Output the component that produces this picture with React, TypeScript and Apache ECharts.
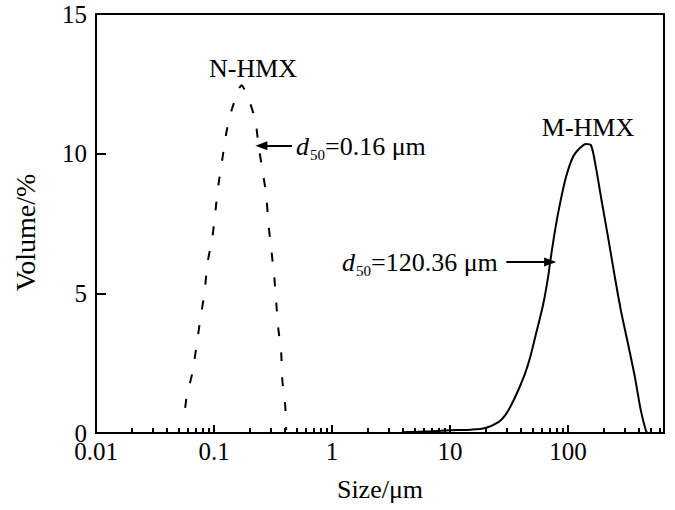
import React, { useEffect, useRef } from "react";
import * as echarts from "echarts";

const nhmxSize = [0.057, 0.0586, 0.0658, 0.0712, 0.0769, 0.0832, 0.0881, 0.097, 0.103, 0.109, 0.118, 0.127, 0.141, 0.164, 0.171, 0.195, 0.224, 0.238, 0.257, 0.277, 0.288, 0.306, 0.324, 0.337, 0.35, 0.371, 0.379, 0.401, 0.409];
const nhmxVolume = [0.9, 1.3, 2.18, 3.15, 4.12, 5.05, 6.09, 7.02, 7.98, 8.88, 9.85, 10.74, 11.56, 12.35, 12.45, 11.99, 11.2, 10.31, 9.42, 8.52, 7.56, 6.55, 5.59, 4.65, 3.76, 2.86, 1.9, 1.0, 0.1];

const mhmxSize = [3.9, 6, 10, 15, 19.9, 25.7, 29.4, 33.0, 37.9, 43.4, 47.8, 52.7, 61.5, 67.8, 70.5, 77.7, 85.6, 96.2, 110, 126, 142, 156, 172, 190, 218, 249, 280, 321, 368, 413, 455, 470];
const mhmxVolume = [0.03, 0.05, 0.1, 0.12, 0.18, 0.39, 0.64, 1.0, 1.54, 2.15, 2.72, 3.44, 4.6, 5.59, 6.12, 7.27, 8.23, 9.17, 9.88, 10.2, 10.35, 10.31, 9.52, 8.45, 7.02, 5.59, 4.4, 3.22, 2.01, 0.82, 0.11, 0];

const xMajorTicks = [0.01, 0.1, 1, 10, 100];
const xMinorTicks = [
  0.02, 0.03, 0.04, 0.05, 0.06, 0.07, 0.08, 0.09,
  0.2, 0.3, 0.4, 0.5, 0.6, 0.7, 0.8, 0.9,
  2, 3, 4, 5, 6, 7, 8, 9,
  20, 30, 40, 50, 60, 70, 80, 90,
  200, 300, 400, 500, 600,
];
const xMin = 0.01;
const xMax = 650;
const yMin = 0;
const yMax = 15;
const yInterval = 5;

const seriesNames = ["N-HMX", "M-HMX"];
const d50Values = ["=0.16 μm", "=120.36 μm"];
// arrows: [tailSize, tailVol, tipSize, tipVol]
const nArrow = [0.459, 10.28, 0.252, 10.28];
const mArrow = [30.0, 6.12, 70.5, 6.12];

const FONT = "Liberation Serif";

function zip(a: number[], b: number[]) {
  return a.map((v, i) => [v, b[i]]);
}

function txt(text: string, x: number, y: number, size: number, italic = false, align = "left") {
  return {
    type: "text",
    x,
    y,
    silent: true,
    style: {
      text,
      fill: "#000",
      fontSize: size,
      fontFamily: FONT,
      fontStyle: italic ? "italic" : "normal",
      align,
      verticalAlign: "middle",
      textAlign: align,
      textVerticalAlign: "middle",
    },
  };
}

function arrow(a: number[]) {
  return {
    silent: true,
    symbol: ["none", "triangle"],
    symbolSize: [9, 12],
    label: { show: false },
    emphasis: { disabled: true },
    lineStyle: { color: "#000", width: 2, type: "solid" },
    itemStyle: { color: "#000" },
    data: [[{ coord: [a[0], a[1]] }, { coord: [a[2], a[3]] }]],
  };
}

export default function App() {
  const ref = useRef<HTMLDivElement>(null);
  useEffect(() => {
    if (!ref.current) return;
    const chart = echarts.init(ref.current, null, { renderer: "svg" });
    const option: any = {
      animation: false,
      backgroundColor: "#fff",
      grid: {
        left: 96,
        right: 11,
        top: 14,
        bottom: 77,
        show: true,
        borderColor: "#000",
        borderWidth: 2,
        backgroundColor: "transparent",
        outerBoundsMode: "none",
      },
      xAxis: [
        {
          type: "log",
          logBase: 10,
          min: xMin,
          max: xMax,
          position: "bottom",
          name: "Size/μm",
          nameLocation: "middle",
          nameGap: 43,
          nameTextStyle: { fontSize: 26, fontFamily: FONT, color: "#000" },
          axisLine: { show: true, onZero: false, lineStyle: { color: "#000", width: 2 } },
          axisTick: { show: true, inside: true, length: 8, lineStyle: { color: "#000", width: 2 }, customValues: xMajorTicks },
          axisLabel: { show: true, customValues: xMajorTicks, fontSize: 25, fontFamily: FONT, color: "#000", margin: 6, formatter: (v: number) => String(v) },
          splitLine: { show: false },
          minorTick: { show: false },
        },
        {
          type: "log",
          logBase: 10,
          min: xMin,
          max: xMax,
          position: "bottom",
          axisLine: { show: false, onZero: false },
          axisTick: { show: true, inside: true, length: 5, lineStyle: { color: "#000", width: 2 }, customValues: xMinorTicks },
          axisLabel: { show: false },
          splitLine: { show: false },
        },
      ],
      yAxis: {
        type: "value",
        min: yMin,
        max: yMax,
        interval: yInterval,
        name: "Volume/%",
        nameLocation: "middle",
        nameGap: 57,
        nameTextStyle: { fontSize: 28, fontFamily: FONT, color: "#000", padding: [0, 18, 0, 0] },
        axisLine: { show: true, lineStyle: { color: "#000", width: 2 } },
        axisTick: { show: true, inside: true, length: 10, lineStyle: { color: "#000", width: 2 } },
        axisLabel: { fontSize: 25, fontFamily: FONT, color: "#000", margin: 9 },
        splitLine: { show: false },
      },
      series: [
        {
          name: seriesNames[0],
          type: "line",
          xAxisIndex: 0,
          data: zip(nhmxSize, nhmxVolume),
          showSymbol: false,
          symbol: "none",
          smooth: 0.2,
          lineStyle: { color: "#000", width: 2, type: [9, 16] },
          markLine: arrow(nArrow),
        },
        {
          name: seriesNames[1],
          type: "line",
          xAxisIndex: 0,
          data: zip(mhmxSize, mhmxVolume),
          showSymbol: false,
          symbol: "none",
          smooth: 0.3,
          lineStyle: { color: "#000", width: 2 },
          markLine: arrow(mArrow),
        },
      ],
      graphic: [
        txt(seriesNames[0], 253, 68, 26, false, "center"),
        txt(seriesNames[1], 588, 127, 26, false, "center"),
        txt("d", 296, 146, 26, true),
        txt("50", 310, 155, 15),
        txt(d50Values[0], 325, 146, 26),
        txt("d", 342, 262, 26, true),
        txt("50", 356, 271, 15),
        txt(d50Values[1], 371, 262, 26),
      ],
    };
    chart.setOption(option);
    return () => chart.dispose();
  }, []);
  return (
    <div
      ref={ref}
      style={{ position: "fixed", left: 0, top: 0, width: 675, height: 510, background: "#fff" }}
    />
  );
}
